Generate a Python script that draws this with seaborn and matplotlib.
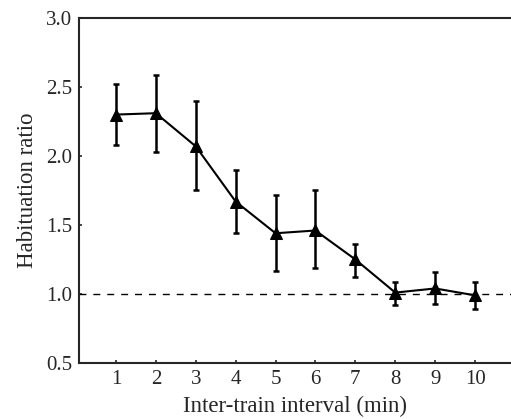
import numpy as np
import pandas as pd
import matplotlib
matplotlib.use("Agg")
import matplotlib.pyplot as plt
import seaborn as sns

# values
interval = [1, 2, 3, 4, 5, 6, 7, 8, 9, 10]
ratio = [2.30, 2.31, 2.07, 1.67, 1.44, 1.46, 1.25, 1.01, 1.04, 0.99]
err_hi = [2.52, 2.59, 2.40, 1.90, 1.72, 1.75, 1.36, 1.09, 1.16, 1.09]
err_lo = [2.08, 2.03, 1.75, 1.44, 1.17, 1.19, 1.12, 0.92, 0.93, 0.89]

df = pd.DataFrame({'interval': interval, 'ratio': ratio})

sns.set_style('ticks')
plt.rcParams['font.family'] = ['Liberation Serif', 'DejaVu Serif']

fig = plt.figure(figsize=(5.11, 4.19), dpi=100)
ax = fig.add_axes([0.1546, 0.1337, 0.8454, 0.8234])

ax.axhline(1.0, color='black', linestyle=(0, (5, 5)), linewidth=1.0)

lo = np.array(ratio) - np.array(err_lo)
hi = np.array(err_hi) - np.array(ratio)
ax.errorbar(interval, ratio, yerr=[lo, hi], fmt='none', ecolor='black',
            elinewidth=1.8, capsize=2, capthick=1.8)
sns.lineplot(x='interval', y='ratio', data=df, ax=ax, color='black',
             marker='^', markersize=9, linewidth=1.5, markeredgecolor='black')

ax.set_xlim(0.075, 10.9)
ax.set_ylim(0.5, 3.0)
ax.set_xticks(interval)
ax.set_yticks([0.5, 1.0, 1.5, 2.0, 2.5, 3.0])
ax.set_yticklabels(['0.5', '1.0', '1.5', '2.0', '2.5', '3.0'])
ax.tick_params(direction='in', length=2, width=1.2, labelsize=15, pad=5)
ax.spines['right'].set_visible(False)
for s in ['left', 'bottom', 'top']:
    ax.spines[s].set_linewidth(1.5)

ax.set_xlabel('Inter-train interval (min)', fontsize=16.5, labelpad=5)
ax.set_ylabel('Habituation ratio', fontsize=16.5, labelpad=6)

fig.savefig('out.png', dpi=100)
